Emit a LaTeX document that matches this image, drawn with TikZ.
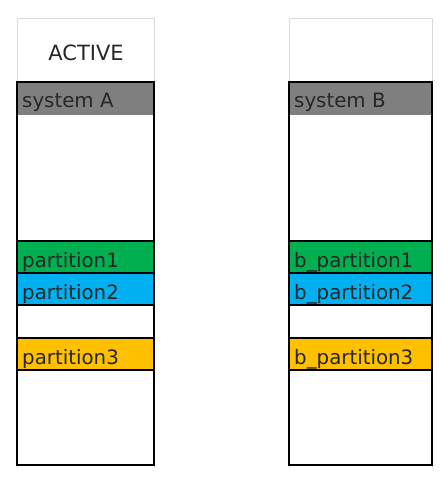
\documentclass[tikz,border=0pt]{standalone}
\usepackage{fontspec}
\setmainfont{DejaVu Sans}
\definecolor{sysgray}{HTML}{7F7F7F}
\definecolor{pgreen}{HTML}{00B050}
\definecolor{pblue}{HTML}{00B0F0}
\definecolor{porange}{HTML}{FFC000}
\definecolor{gridgray}{HTML}{D9D9D9}
\definecolor{txt}{HTML}{262626}
\begin{document}
\begin{tikzpicture}[x=1pt,y=-1pt,
  lbl/.style={anchor=base west, inner sep=0pt, font=\fontsize{19.8}{22}\selectfont, text=txt},
  hdr/.style={anchor=base, inner sep=0pt, font=\fontsize{21}{23}\selectfont, text=txt},
  sep/.style={line width=2.2pt, black},
  outer/.style={line width=2.4pt, black},
  grid/.style={line width=1pt, gridgray}]
\useasboundingbox (0,0) rectangle (446,481);
% ---------- left column ----------
\draw[grid] (17,468) -- (17,19) -- (154,19) -- (154,468);
\fill[sysgray] (17,82) rectangle (154,115);
\fill[pgreen] (17,241) rectangle (154,273);
\fill[pblue] (17,273) rectangle (154,305);
\fill[porange] (17,338) rectangle (154,370);
\foreach \yy in {241,273,305,338,370} \draw[sep] (17,\yy) -- (154,\yy);
\draw[outer] (17,82) rectangle (154,465);
\node[hdr] (active) at (86,61) {ACTIVE};
\node[lbl] (sysA) at (22,108) {system A};
\node[lbl] (pA1) at (22,267) {partition1};
\node[lbl] (pA2) at (22,299) {partition2};
\node[lbl] (pA3) at (22,364) {partition3};
% ---------- right column ----------
\draw[grid] (289,468) -- (289,19) -- (432,19) -- (432,468);
\fill[sysgray] (289,82) rectangle (432,115);
\fill[pgreen] (289,241) rectangle (432,273);
\fill[pblue] (289,273) rectangle (432,305);
\fill[porange] (289,338) rectangle (432,370);
\foreach \yy in {241,273,305,338,370} \draw[sep] (289,\yy) -- (432,\yy);
\draw[outer] (289,82) rectangle (432,465);
\node[lbl] (sysB) at (294,108) {system B};
\node[lbl] (pB1) at (294,267) {b\_partition1};
\node[lbl] (pB2) at (294,299) {b\_partition2};
\node[lbl] (pB3) at (294,364) {b\_partition3};
\end{tikzpicture}
\end{document}
